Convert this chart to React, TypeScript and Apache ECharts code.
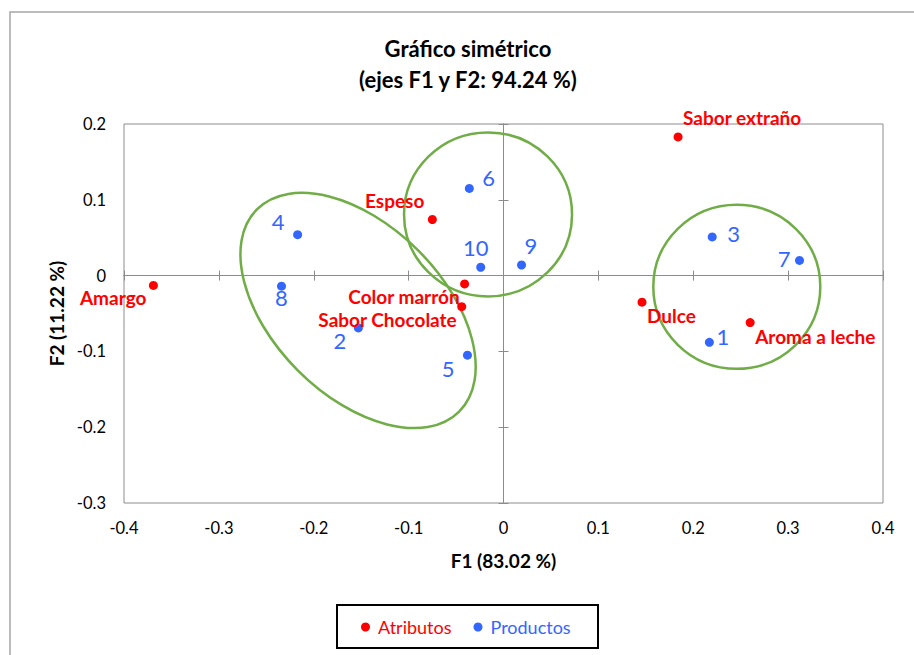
import React, { useEffect, useRef } from "react";
import * as echarts from "echarts";

// Correspondence analysis map: attributes (red) and products (blue)
const attributeNames = ["Amargo", "Espeso", "Color marrón", "Sabor Chocolate", "Sabor extraño", "Dulce", "Aroma a leche"];
const attributeF1 = [-0.369, -0.075, -0.041, -0.044, 0.184, 0.146, 0.26];
const attributeF2 = [-0.013, 0.074, -0.011, -0.041, 0.183, -0.035, -0.062];

const productNames = ["1", "2", "3", "4", "5", "6", "7", "8", "9", "10"];
const productF1 = [0.217, -0.153, 0.22, -0.217, -0.038, -0.036, 0.312, -0.234, 0.019, -0.024];
const productF2 = [-0.088, -0.069, 0.051, 0.054, -0.105, 0.115, 0.02, -0.014, 0.014, 0.011];

const xTicks = { min: -0.4, max: 0.4, step: 0.1 };
const yTicks = { min: -0.3, max: 0.2, step: 0.1 };

// Label anchoring: [align, dx, dy] relative to each point
const attributeLabelPlacement: [string, number, number][] = [
  ["right", -7, 12],
  ["right", -8, -19],
  ["right", -5, 13],
  ["right", -5, 13],
  ["left", 5, -19],
  ["left", 5, 13],
  ["left", 5, 14],
];
const productLabelPlacement: [string, number, number][] = [
  ["left", 7, -6],
  ["right", -12, 13],
  ["left", 15, -3],
  ["right", -13, -13],
  ["right", -13, 13],
  ["left", 13, -11],
  ["right", -9, -2],
  ["center", 0, 11],
  ["left", 3, -19],
  ["center", -5, -20],
];

// Group outlines: centre in map units, radii in px, rotation in degrees
const outlineCentres = [
  [-0.0163, 0.0807],
  [0.2459, -0.0148],
  [-0.1533, -0.046],
];
const outlineShapes = [
  { rx: 84, ry: 82, rot: 0 },
  { rx: 83.5, ry: 82, rot: 0 },
  { rx: 143, ry: 85, rot: -45 },
];

const RED = "#FF0000";
const BLUE = "#3366FF";
const GREEN = "#70AD47";
const AXIS_GRAY = "#8C8C8C";
const FONT = "Lato, 'Noto Sans', sans-serif";

function buildPoints(
  names: string[],
  xs: number[],
  ys: number[],
  placement: [string, number, number][]
) {
  return names.map((n, i) => ({
    name: n,
    value: [xs[i], ys[i]],
    label: {
      align: placement[i][0],
      offset: [placement[i][1], placement[i][2]],
    },
  }));
}

export default function App() {
  const ref = useRef<HTMLDivElement>(null);

  useEffect(() => {
    if (!ref.current) return;
    const chart = echarts.init(ref.current, undefined, { renderer: "svg" });

    const baseX = {
      type: "value",
      min: xTicks.min,
      max: xTicks.max,
      interval: xTicks.step,
      splitLine: { show: false },
    };
    const baseY = {
      type: "value",
      min: yTicks.min,
      max: yTicks.max,
      interval: yTicks.step,
      splitLine: { show: false },
    };

    const option: any = {
      animation: false,
      backgroundColor: "#FFFFFF",
      grid: {
        left: 124,
        right: 31,
        top: 124,
        bottom: 152,
        show: true,
        borderColor: AXIS_GRAY,
        borderWidth: 1,
        containLabel: false,
      },
      xAxis: [
        {
          ...baseX,
          position: "bottom",
          axisLine: { show: false },
          axisTick: { show: false },
          axisLabel: { color: "#000", fontSize: 16.5, fontFamily: FONT, margin: 16 },
          name: "F1 (83.02 %)",
          nameLocation: "middle",
          nameGap: 48,
          nameTextStyle: { color: "#000", fontSize: 19, fontWeight: "bold", fontFamily: FONT },
        },
        {
          ...baseX,
          position: "bottom",
          axisLine: { show: true, onZero: true, lineStyle: { color: AXIS_GRAY, width: 1 } },
          axisTick: { show: true, inside: true, length: 5, lineStyle: { color: AXIS_GRAY } },
          axisLabel: { show: false },
        },
        {
          ...baseX,
          position: "bottom",
          axisLine: { show: true, onZero: true, lineStyle: { color: AXIS_GRAY, width: 1 } },
          axisTick: { show: true, inside: false, length: 5, lineStyle: { color: AXIS_GRAY } },
          axisLabel: { show: false },
        },
      ],
      yAxis: [
        {
          ...baseY,
          position: "left",
          axisLine: { show: false },
          axisTick: { show: false },
          axisLabel: { color: "#000", fontSize: 16.5, fontFamily: FONT, margin: 18 },
          name: "F2 (11.22 %)",
          nameLocation: "middle",
          nameGap: 57,
          nameTextStyle: { color: "#000", fontSize: 19, fontWeight: "bold", fontFamily: FONT },
        },
        {
          ...baseY,
          position: "left",
          axisLine: { show: true, onZero: true, lineStyle: { color: AXIS_GRAY, width: 1 } },
          axisTick: { show: true, inside: true, length: 5, lineStyle: { color: AXIS_GRAY } },
          axisLabel: { show: false },
        },
        {
          ...baseY,
          position: "left",
          axisLine: { show: true, onZero: true, lineStyle: { color: AXIS_GRAY, width: 1 } },
          axisTick: { show: true, inside: false, length: 5, lineStyle: { color: AXIS_GRAY } },
          axisLabel: { show: false },
        },
      ],
      legend: {
        data: [
          { name: "Atributos", textStyle: { color: RED } },
          { name: "Productos", textStyle: { color: BLUE } },
        ],
        left: 361,
        top: 618,
        padding: 0,
        icon: "circle",
        itemWidth: 9,
        itemHeight: 9,
        itemGap: 22,
        itemStyle: { opacity: 1 },
        textStyle: { fontSize: 18, fontFamily: FONT, padding: [0, 0, 0, 3] },
      },
      graphic: [
        {
          type: "rect",
          shape: { x: 10, y: 12, width: 920, height: 660 },
          style: { fill: "none", stroke: "#A6A6A6", lineWidth: 1.5 },
          silent: true,
          z: -10,
        },
        {
          type: "text",
          x: 468,
          y: 48,
          style: {
            text: "Gráfico simétrico",
            align: "center",
            verticalAlign: "middle",
            fill: "#000",
            font: `bold 22px ${FONT}`,
          },
        },
        {
          type: "text",
          x: 468,
          y: 79,
          style: {
            text: "(ejes F1 y F2: 94.24 %)",
            align: "center",
            verticalAlign: "middle",
            fill: "#000",
            font: `bold 22px ${FONT}`,
          },
        },
        {
          type: "rect",
          shape: { x: 337, y: 605, width: 261, height: 43 },
          style: { fill: "none", stroke: "#000", lineWidth: 2 },
          silent: true,
        },
      ],
      series: [
        {
          type: "custom",
          name: "grupos",
          coordinateSystem: "cartesian2d",
          xAxisIndex: 0,
          yAxisIndex: 0,
          silent: true,
          z: 1,
          data: outlineCentres,
          encode: { x: 0, y: 1 },
          renderItem: (params: any, api: any) => {
            const s = outlineShapes[params.dataIndex];
            const c = api.coord([api.value(0), api.value(1)]);
            return {
              type: "ellipse",
              x: c[0],
              y: c[1],
              rotation: (s.rot * Math.PI) / 180,
              shape: { cx: 0, cy: 0, rx: s.rx, ry: s.ry },
              style: { fill: "none", stroke: GREEN, lineWidth: 2.5 },
            };
          },
        },
        {
          type: "scatter",
          name: "Atributos",
          xAxisIndex: 0,
          yAxisIndex: 0,
          z: 3,
          symbol: "circle",
          symbolSize: 9,
          itemStyle: { color: RED, opacity: 1 },
          label: {
            show: true,
            position: "inside",
            verticalAlign: "middle",
            formatter: "{b}",
            color: RED,
            fontSize: 19,
            fontWeight: "bold",
            fontFamily: FONT,
          },
          data: buildPoints(attributeNames, attributeF1, attributeF2, attributeLabelPlacement),
        },
        {
          type: "scatter",
          name: "Productos",
          xAxisIndex: 0,
          yAxisIndex: 0,
          z: 3,
          symbol: "circle",
          symbolSize: 9,
          itemStyle: { color: BLUE, opacity: 1 },
          label: {
            show: true,
            position: "inside",
            verticalAlign: "middle",
            formatter: "{b}",
            color: BLUE,
            fontSize: 22,
            fontFamily: FONT,
          },
          data: buildPoints(productNames, productF1, productF2, productLabelPlacement),
        },
      ],
    };

    chart.setOption(option);
    return () => chart.dispose();
  }, []);

  return (
    <div
      ref={ref}
      style={{ position: "fixed", left: 0, top: 0, width: 914, height: 655, background: "#fff" }}
    />
  );
}
